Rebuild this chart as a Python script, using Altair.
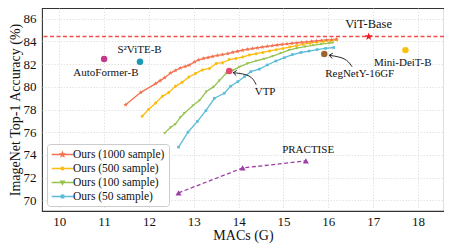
import math
import altair as alt
import pandas as pd

# ---------------- data ----------------
series_names = ["Ours (1000 sample)", "Ours (500 sample)", "Ours (100 sample)", "Ours (50 sample)"]
series_colors = ["#f3714f", "#fbbd12", "#96c24e", "#5bbcd9"]

o1000_macs = [11.48, 11.82, 12.15, 12.25, 12.35, 12.48, 12.59, 12.70, 12.81, 12.90,
              13.02, 13.11, 13.22, 13.32, 13.42, 13.53, 13.64, 13.76, 13.87, 13.98,
              14.09, 14.20, 14.31, 14.42, 14.53, 14.64, 14.75, 14.86, 14.97, 15.08,
              15.19, 15.30, 15.41, 15.52, 15.63, 15.74, 15.85, 15.96, 16.07, 16.18]
o1000_acc = [78.41, 79.51, 80.28, 80.54, 80.80, 81.21, 81.44, 81.65, 81.79, 81.91,
             82.20, 82.38, 82.50, 82.58, 82.67, 82.76, 82.84, 82.93, 83.04, 83.13,
             83.22, 83.30, 83.37, 83.44, 83.50, 83.56, 83.62, 83.68, 83.73, 83.78,
             83.83, 83.88, 83.92, 83.96, 84.00, 84.04, 84.08, 84.12, 84.15, 84.19]

o500_macs = [11.85, 11.99, 12.15, 12.30, 12.44, 12.59, 12.74, 12.89, 13.04, 13.19,
             13.35, 13.50, 13.64, 13.79, 13.94, 14.09, 14.24, 14.39, 14.54, 14.69,
             14.84, 14.99, 15.14, 15.29, 15.44, 15.59, 15.74, 15.89, 16.04, 16.19]
o500_acc = [77.41, 78.00, 78.58, 79.16, 79.49, 80.04, 80.39, 80.86, 81.18, 81.48,
            81.62, 82.06, 82.12, 82.40, 82.50, 82.62, 82.80, 82.92, 83.03, 83.16,
            83.27, 83.38, 83.50, 83.62, 83.74, 83.84, 83.93, 84.00, 84.07, 84.14]

o100_macs = [12.35, 12.48, 12.59, 12.70, 12.79, 12.98, 13.13, 13.28, 13.44, 13.57,
             13.72, 13.87, 14.02, 14.20, 14.39, 14.57, 14.76, 14.94, 15.12, 15.30,
             15.48, 15.66, 15.84, 16.02, 16.10]
o100_acc = [75.92, 76.42, 76.71, 77.30, 77.67, 78.35, 78.81, 79.58, 79.99, 80.54,
            81.18, 81.45, 81.76, 82.06, 82.29, 82.47, 82.70, 82.97, 83.23, 83.40,
            83.53, 83.65, 83.75, 83.84, 83.88]

o50_macs = [12.66, 12.87, 13.08, 13.27, 13.46, 13.68, 13.82, 13.98, 14.13, 14.27,
            14.46, 14.64, 14.83, 15.02, 15.20, 15.39, 15.57, 15.75, 15.94, 16.12]
o50_acc = [74.69, 76.00, 76.95, 77.90, 78.99, 79.43, 80.05, 80.45, 80.89, 81.33,
           81.56, 81.92, 82.27, 82.56, 82.84, 83.02, 83.15, 83.28, 83.38, 83.46]

other_names = ["AutoFormer-B", "S²ViTE-B", "Mini-DeiT-B", "RegNetY-16GF", "VTP"]
other_macs = [11.0, 11.8, 17.72, 15.91, 13.79]
other_acc = [82.44, 82.2, 83.23, 82.88, 81.39]
other_colors = ["#c4398a", "#1b98b3", "#f9c211", "#9b6530", "#e9486c"]

practise_macs = [12.66, 14.09, 15.5]
practise_acc = [70.66, 72.85, 73.47]

vit_macs = [16.9]
vit_acc = [84.42]

label_text = ["ViT-Base", "Mini-DeiT-B", "RegNetY-16GF", "VTP", "AutoFormer-B", "S²ViTE-B", "PRACTISE"]
label_macs = [16.9, 17.66, 16.70, 14.59, 11.04, 11.79, 15.55]
label_acc = [85.56, 82.12, 81.13, 79.58, 81.18, 83.23, 74.47]
label_size = [12.5, 11, 11, 11, 11, 11, 11]

# annotation arrows: start, control, end
vtp_arrow_macs = [14.39, 14.28, 13.88]
vtp_arrow_acc = [80.19, 81.07, 81.24]
reg_arrow_macs = [16.53, 16.39, 16.02]
reg_arrow_acc = [81.77, 82.56, 82.77]

x_ticks = [10, 11, 12, 13, 14, 15, 16, 17, 18]
y_ticks = [70, 72, 74, 76, 78, 80, 82, 84, 86]

FONT = "Liberation Serif"

# ---------------- shapes ----------------
def star_path(R=1.0, r=0.42, dx=0.0):
    pts = []
    for k in range(10):
        ang = math.radians(-90 + 36 * k)
        rad = R if k % 2 == 0 else r
        pts.append((dx + rad * math.cos(ang), rad * math.sin(ang)))
    return "M" + "L".join(f"{x:.3f},{y:.3f}" for x, y in pts) + "Z"

STAR = star_path()
CIRCLE = "M-1,0A1,1 0 1,0 1,0A1,1 0 1,0 -1,0Z"
TRI_DOWN = "M-1,-0.75L1,-0.75L0,1Z"
SQUARE = "M-1,-1H1V1H-1Z"
CHEVRON = "M-0.8,1L0,0L0.8,1"

LINE = "M-2,0H2"
legend_paths = [
    LINE + star_path(0.36, 0.15),
    LINE + "M-0.25,0A0.25,0.25 0 1,0 0.25,0A0.25,0.25 0 1,0 -0.25,0Z",
    LINE + "M-0.32,-0.24L0.32,-0.24L0,0.32Z",
    LINE + "M-0.22,-0.22H0.22V0.22H-0.22Z",
]
series_shapes = [STAR, CIRCLE, TRI_DOWN, SQUARE]
series_sizes = [22, 9, 9, 7]

# ---------------- frames ----------------
rows = []
for name, xs, ys in zip(series_names,
                        [o1000_macs, o500_macs, o100_macs, o50_macs],
                        [o1000_acc, o500_acc, o100_acc, o50_acc]):
    for i, (a, b) in enumerate(zip(xs, ys)):
        rows.append({"series": name, "macs": a, "acc": b, "idx": i})
df = pd.DataFrame(rows)

xscale = alt.Scale(domain=[9.615, 18.58], nice=False, zero=False)
yscale = alt.Scale(domain=[69.06, 86.94], nice=False, zero=False)

X = alt.X("macs:Q", scale=xscale,
          axis=alt.Axis(values=x_ticks, title="MACs (G)", format="d"))
Y = alt.Y("acc:Q", scale=yscale,
          axis=alt.Axis(values=y_ticks, title="ImageNet Top-1 Accuracy (%)", format="d"))

layers = []

# reference dashed line
ref_df = pd.DataFrame({"acc": vit_acc})
layers.append(alt.Chart(ref_df).mark_rule(color="#f24c48", strokeWidth=1.5, strokeDash=[4, 2.5])
              .encode(y=Y))

# PRACTISE
pr_df = pd.DataFrame({"macs": practise_macs, "acc": practise_acc})
layers.append(alt.Chart(pr_df).mark_line(color="#9c3fa3", strokeWidth=1.3, strokeDash=[4, 2.5])
              .encode(x=X, y=Y))
layers.append(alt.Chart(pr_df).mark_point(shape="triangle-up", filled=True, size=36,
                                          color="#9c3fa3", opacity=1)
              .encode(x=X, y=Y))

# legend layer (invisible marks, legend only)
leg = alt.Legend(title=None, orient="none", legendX=5, legendY=136,
                 labelFont=FONT, labelFontSize=11.5, labelColor="#111111",
                 strokeColor="#cccccc", fillColor="#ffffff", cornerRadius=3,
                 padding=4, rowPadding=2, symbolStrokeWidth=1.4, symbolOffset=5,
                 labelOffset=4, symbolSize=117, labelLimit=200, symbolOpacity=1)
layers.append(alt.Chart(df)
              .mark_point(filled=True, opacity=0, strokeWidth=1.4)
              .encode(x=X, y=Y,
                      fill=alt.Fill("series:N", scale=alt.Scale(domain=series_names, range=series_colors), legend=leg),
                      stroke=alt.Stroke("series:N", scale=alt.Scale(domain=series_names, range=series_colors), legend=leg),
                      shape=alt.Shape("series:N", scale=alt.Scale(domain=series_names, range=legend_paths), legend=leg)))

# our lines
line_color = alt.Color("series:N", scale=alt.Scale(domain=series_names, range=series_colors),
                       legend=None)
layers.append(alt.Chart(df).mark_line(strokeWidth=1.3)
              .encode(x=X, y=Y, color=line_color, order="idx:Q",
                      detail="series:N"))
for name, col, shp, sz in list(zip(series_names, series_colors, series_shapes, series_sizes))[::-1]:
    layers.append(alt.Chart(df).transform_filter(alt.datum.series == name)
                  .mark_point(shape=shp, filled=True, size=sz, color=col, opacity=1)
                  .encode(x=X, y=Y))

# other methods
for n, a, b, c in zip(other_names, other_macs, other_acc, other_colors):
    odf = pd.DataFrame({"macs": [a], "acc": [b]})
    layers.append(alt.Chart(odf).mark_point(shape="circle", filled=True, size=42,
                                            color=c, opacity=1).encode(x=X, y=Y))

# ViT star
vit_df = pd.DataFrame({"macs": vit_macs, "acc": vit_acc})
layers.append(alt.Chart(vit_df).mark_point(shape=STAR, filled=True, size=70,
                                           color="#ee1c25", opacity=1).encode(x=X, y=Y))

# arrows
for xs, ys, ang in [(vtp_arrow_macs, vtp_arrow_acc, 276), (reg_arrow_macs, reg_arrow_acc, 278)]:
    adf = pd.DataFrame({"macs": xs, "acc": ys, "o": [0, 1, 2]})
    layers.append(alt.Chart(adf).mark_line(color="#111111", strokeWidth=0.9, interpolate="basis")
                  .encode(x=X, y=Y, order="o:Q"))
    hdf = pd.DataFrame({"macs": [xs[-1]], "acc": [ys[-1]]})
    layers.append(alt.Chart(hdf).mark_point(shape=CHEVRON, filled=False, size=42, angle=ang,
                                            color="#111111", strokeWidth=0.9, opacity=1)
                  .encode(x=X, y=Y))

# text labels
for t, a, b, s in zip(label_text, label_macs, label_acc, label_size):
    tdf = pd.DataFrame({"macs": [a], "acc": [b], "t": [t]})
    layers.append(alt.Chart(tdf).mark_text(fontSize=s, align="center", baseline="middle",
                                           color="#111111", font=FONT)
                  .encode(x=X, y=Y, text="t:N"))

chart = (alt.layer(*layers)
         .properties(width=402, height=203,
                     autosize=alt.AutoSizeParams(type="none"),
                     padding={"left": 34, "top": 0, "right": 0, "bottom": 36})
         .configure(font=FONT)
         .configure_text(font=FONT)
         .configure_view(stroke="#333333", strokeWidth=1.1)
         .configure_axis(labelFont=FONT, titleFont=FONT,
                         labelFontSize=13, titleFontSize=14, titleFontWeight="normal",
                         labelColor="#111111", titleColor="#111111",
                         grid=True, gridColor="#dddddd", gridDash=[1.5, 1.5], gridWidth=0.8,
                         domain=False, ticks=False)
         .configure_axisX(labelPadding=4, titlePadding=0)
         .configure_axisY(labelPadding=6, titlePadding=1)
         )

chart.save("out.html", embed_options={"renderer": "svg", "actions": False})
